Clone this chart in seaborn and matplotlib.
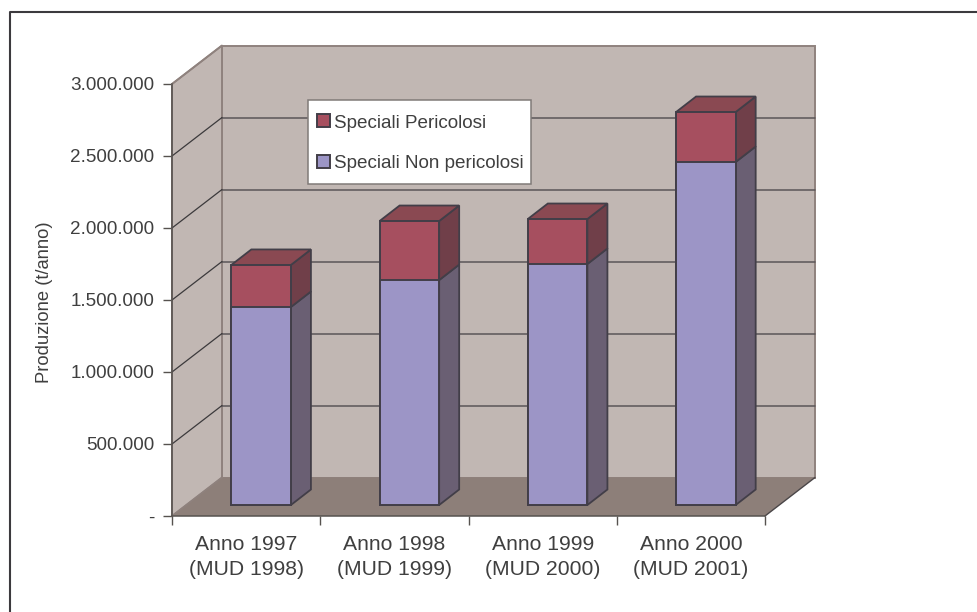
import matplotlib
matplotlib.use("Agg")
import matplotlib.pyplot as plt
from matplotlib.lines import Line2D
from matplotlib.patches import Patch, Polygon, Rectangle
import pandas as pd
import seaborn as sns

categories = ["Anno 1997\n(MUD 1998)", "Anno 1998\n(MUD 1999)",
              "Anno 1999\n(MUD 2000)", "Anno 2000\n(MUD 2001)"]
non_pericolosi = [1375000, 1562000, 1674000, 2382000]
pericolosi = [292000, 410000, 312000, 347000]
y_ticks = [0, 500000, 1000000, 1500000, 2000000, 2500000, 3000000]
y_tick_labels = ["-", "500.000", "1.000.000", "1.500.000", "2.000.000", "2.500.000", "3.000.000"]
label_non = "Speciali Non pericolosi"
label_per = "Speciali Pericolosi"
y_title = "Produzione (t/anno)"

W, H = 978, 612
FONT = ["Liberation Sans", "DejaVu Sans"]
TXT = "#3f3f3f"
sns.set_theme(style="white")
plt.rcParams["font.family"] = FONT

df = pd.DataFrame({
    "cat": categories,
    "non": non_pericolosi,
    "tot": [a + b for a, b in zip(non_pericolosi, pericolosi)],
})

fig = plt.figure(figsize=(W / 100, H / 100), dpi=100, facecolor="white")
L, R, T, B = 172, 765, 84, 516
ax = fig.add_axes([L / W, 1 - B / H, (R - L) / W, (B - T) / H], facecolor="none")
ax.set_xlim(-0.5, 3.5)
ax.set_ylim(0, 3000000)

px_x = 4 / (R - L)
px_y = 3000000 / (B - T)
WALL_DX, WALL_DY = 50 * px_x, 38.5 * px_y
BAR_DX, BAR_DY = 15 * px_x, 11 * px_y
SIDE_DX, SIDE_DY = 20 * px_x, 15.5 * px_y

# Box: walls and floor
x0, x1 = -0.5, 3.5
ytop = 3000000
wall_edge = "#8f827e"
ax.add_patch(Polygon([(x0 + WALL_DX, WALL_DY), (x1 + WALL_DX, WALL_DY),
                      (x1 + WALL_DX, ytop + WALL_DY), (x0 + WALL_DX, ytop + WALL_DY)],
                     fc="#c1b7b3", ec=wall_edge, lw=1.4, clip_on=False, zorder=1))
ax.add_patch(Polygon([(x0, 0), (x0 + WALL_DX, WALL_DY), (x0 + WALL_DX, ytop + WALL_DY), (x0, ytop)],
                     fc="#c1b7b3", ec=wall_edge, lw=1.4, clip_on=False, zorder=1.1))
ax.add_patch(Polygon([(x0, 0), (x1, 0), (x1 + WALL_DX, WALL_DY), (x0 + WALL_DX, WALL_DY)],
                     fc="#8d7f79", ec="none", clip_on=False, zorder=1.2))
ax.add_line(Line2D([x1, x1 + WALL_DX], [0, WALL_DY], color="#4a4648", lw=1.0, clip_on=False, zorder=1.3))

# Gridlines on the walls
for v in y_ticks[1:]:
    c = "#5a5658"
    if v == 3000000:
        ax.add_line(Line2D([x0, x0 + WALL_DX], [v, v + WALL_DY], color=wall_edge, lw=1.2,
                           clip_on=False, zorder=1.3))
        continue
    ax.add_line(Line2D([x0 + WALL_DX, x1 + WALL_DX], [v + WALL_DY] * 2, color=c, lw=1.1,
                       clip_on=False, zorder=1.3))
    ax.add_line(Line2D([x0, x0 + WALL_DX], [v, v + WALL_DY], color="#3c3a3c", lw=0.9,
                       clip_on=False, zorder=1.3))
ax.add_line(Line2D([x0, x0 + WALL_DX], [0, WALL_DY], color="#8f827e", lw=1.0, clip_on=False, zorder=1.3))

# Bars (drawn by seaborn: the totals first, then the lower part on top)
edge = "#423e48"
bar_w = 0.402
sns.barplot(data=df, x="cat", y="tot", color="#a64f5f", saturation=1, width=bar_w,
            edgecolor=edge, linewidth=1.4, ax=ax, zorder=3, clip_on=False)
sns.barplot(data=df, x="cat", y="non", color="#9c95c6", saturation=1, width=bar_w,
            edgecolor=edge, linewidth=1.4, ax=ax, zorder=3.1, clip_on=False)
for p in ax.patches:
    if isinstance(p, Rectangle) and p.get_zorder() >= 3:
        p.set_x(p.get_x() + BAR_DX)
        p.set_y(p.get_y() + BAR_DY)

bars = [p for p in ax.patches if isinstance(p, Rectangle) and p.get_zorder() >= 3]
tot_bars = [b for b in bars if b.get_zorder() == 3]
non_bars = [b for b in bars if b.get_zorder() == 3.1]
for tb, nb in zip(tot_bars, non_bars):
    xa, xb = tb.get_x(), tb.get_x() + tb.get_width()
    y0 = tb.get_y()
    ym = y0 + nb.get_height()
    yt = y0 + tb.get_height()
    faces = [
        ([(xb, y0), (xb + SIDE_DX, y0 + SIDE_DY), (xb + SIDE_DX, ym + SIDE_DY), (xb, ym)], "#6a5f73"),
        ([(xb, ym), (xb + SIDE_DX, ym + SIDE_DY), (xb + SIDE_DX, yt + SIDE_DY), (xb, yt)], "#703f49"),
        ([(xa, yt), (xb, yt), (xb + SIDE_DX, yt + SIDE_DY), (xa + SIDE_DX, yt + SIDE_DY)], "#8a4952"),
    ]
    for pts, col in faces:
        ax.add_patch(Polygon(pts, fc=col, ec=edge, lw=1.3, clip_on=False, zorder=2.5,
                             joinstyle="miter"))

# Axes
ax.set_xlabel("")
ax.set_ylabel(y_title, fontsize=13.2, color=TXT, labelpad=0)
ax.yaxis.set_label_coords((53 - L) / (R - L), 0.5 - 2 / (B - T))
for s in ("top", "right"):
    ax.spines[s].set_visible(False)
for s in ("left", "bottom"):
    ax.spines[s].set_visible(True)
    ax.spines[s].set_color("#56524f")
    ax.spines[s].set_linewidth(1.1)
    ax.spines[s].set_zorder(2)
ax.set_yticks(y_ticks, y_tick_labels)
ax.set_xticks([-0.5, 0.5, 1.5, 2.5, 3.5], [""] * 5)
ax.set_xticks([0, 1, 2, 3], categories, minor=True)
ax.tick_params(axis="y", which="major", left=True, direction="out", length=6.5, width=1.0,
               color="#56524f", labelsize=13.6, labelcolor=TXT, pad=6.3)
ax.tick_params(axis="x", which="major", bottom=True, direction="out", length=6.5, width=1.0,
               color="#56524f")
ax.tick_params(axis="x", which="minor", bottom=False, length=0, labelsize=15.2, labelcolor=TXT, pad=13.7)
for lab in ax.get_xticklabels(minor=True):
    lab.set_linespacing(1.38)
ax.set_xlim(-0.5, 3.5)
ax.set_ylim(0, 3000000)

# Legend: white box plus frameless legend inside it
ax.add_patch(Rectangle((308 / W, 1 - 184 / H), 223 / W, 84.5 / H, transform=fig.transFigure,
                       fc="white", ec="#807a78", lw=1.1, clip_on=False, zorder=5))
handles = [Patch(fc="#a64f5f", ec=edge, lw=1.4, label=label_per),
           Patch(fc="#9c95c6", ec=edge, lw=1.4, label=label_non)]
leg = ax.legend(handles=handles, loc="upper left",
                bbox_to_anchor=(317 / W, 1 - 114.5 / H),
                bbox_transform=fig.transFigure, borderaxespad=0, borderpad=0,
                fontsize=13.55, labelcolor=TXT, frameon=False, handlelength=0.67, handleheight=0.67,
                handletextpad=0.24, labelspacing=1.26)
leg.set_zorder(6)

# Chart-area frame (top and left only are visible)
fig.add_artist(Line2D([9.5 / W, 9.5 / W, 1], [0, 1 - 11.5 / H, 1 - 11.5 / H],
                      transform=fig.transFigure, color="#3c3a3e", lw=1.5))

fig.savefig("out.png", dpi=100, facecolor="white")
